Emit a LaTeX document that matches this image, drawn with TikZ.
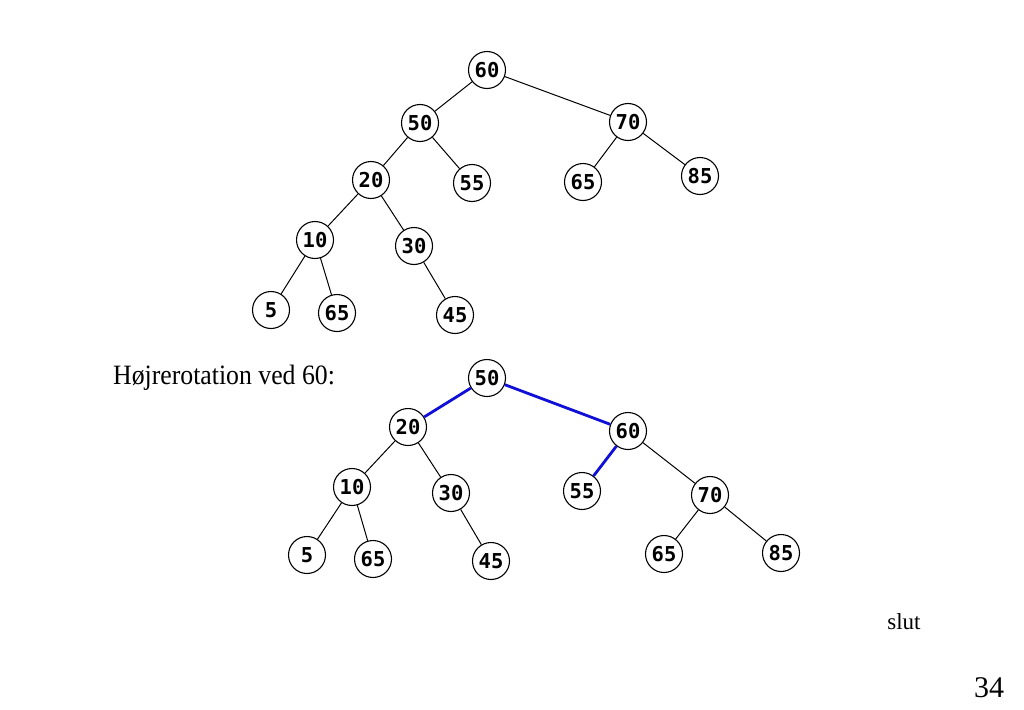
\documentclass[tikz,border=0pt]{standalone}
\usepackage{fontspec}
\setmainfont{Liberation Serif}
\newfontfamily\nodefont{DejaVu Sans Mono}
\definecolor{rotblue}{RGB}{15,15,215}
\begin{document}
\begin{tikzpicture}[x=1pt,y=-1pt,
  tn/.style={circle,draw,line width=1.1pt,minimum size=37pt,inner sep=0pt,
    font=\nodefont\bfseries\fontsize{20.5}{20.5}\selectfont},
  edge/.style={line width=1pt,black},
  bedge/.style={line width=2.8pt,rotblue}]
\useasboundingbox (0,0) rectangle (1024,709);
\fill[white] (0,0) rectangle (1024,709);
% top tree
\node[tn] (a60) at (487,70) {60};
\node[tn] (a50) at (420,123) {50};
\node[tn] (a70) at (628,122) {70};
\node[tn] (a20) at (371,180) {20};
\node[tn] (a55) at (472,183) {55};
\node[tn] (a65) at (583,182) {65};
\node[tn] (a85) at (700,176) {85};
\node[tn] (a10) at (315,240) {10};
\node[tn] (a30) at (414,246) {30};
\node[tn] (a5) at (271,310) {5};
\node[tn] (a65b) at (337,313) {65};
\node[tn] (a45) at (455,315) {45};
\draw[edge] (a60) -- (a50);
\draw[edge] (a60) -- (a70);
\draw[edge] (a50) -- (a20);
\draw[edge] (a50) -- (a55);
\draw[edge] (a70) -- (a65);
\draw[edge] (a70) -- (a85);
\draw[edge] (a20) -- (a10);
\draw[edge] (a20) -- (a30);
\draw[edge] (a10) -- (a5);
\draw[edge] (a10) -- (a65b);
\draw[edge] (a30) -- (a45);
% label
\node[anchor=base west,inner sep=0pt,xscale=0.92,font=\fontsize{28}{28}\selectfont] (lbl) at (113,384) {Højrerotation ved 60:};
% bottom tree
\node[tn] (b50) at (487,378) {50};
\node[tn] (b20) at (408,427) {20};
\node[tn] (b60) at (628,431) {60};
\node[tn] (b10) at (352,487) {10};
\node[tn] (b30) at (451,493) {30};
\node[tn] (b55) at (582,491) {55};
\node[tn] (b70) at (710,495) {70};
\node[tn] (b5) at (307,555) {5};
\node[tn] (b65) at (373,559) {65};
\node[tn] (b45) at (491,561) {45};
\node[tn] (b65r) at (664,554) {65};
\node[tn] (b85) at (781,553) {85};
\draw[bedge] (b50) -- (b20);
\draw[bedge] (b50) -- (b60);
\draw[bedge] (b60) -- (b55);
\draw[edge] (b60) -- (b70);
\draw[edge] (b20) -- (b10);
\draw[edge] (b20) -- (b30);
\draw[edge] (b10) -- (b5);
\draw[edge] (b10) -- (b65);
\draw[edge] (b30) -- (b45);
\draw[edge] (b70) -- (b65r);
\draw[edge] (b70) -- (b85);
% footer
\node[anchor=base,inner sep=0pt,font=\fontsize{23}{23}\selectfont] (slut) at (904,629) {slut};
\node[anchor=base,inner sep=0pt,font=\fontsize{30}{30}\selectfont] (pg) at (989,697) {34};
\end{tikzpicture}
\end{document}
